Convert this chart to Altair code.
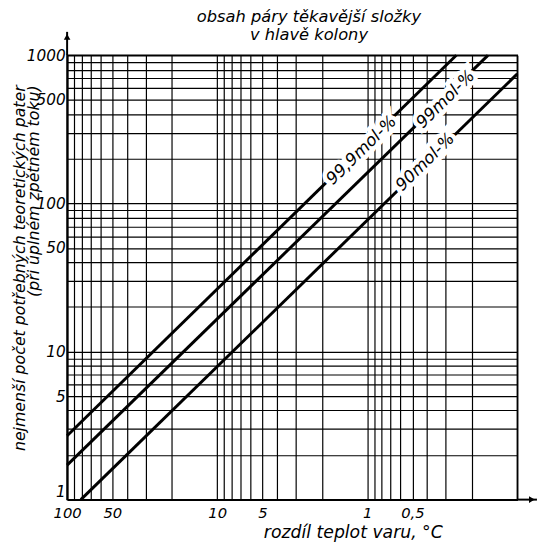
import altair as alt
import pandas as pd

# --- data ---
series = ["99,9 mol-%", "99 mol-%", "90 mol-%"]
dT_start = [100, 100, 81]
N_start = [2.7, 1.71, 1.0]
dT_end = [0.255, 0.157, 0.1]
N_end = [1000, 1000, 750]

label_text = ["99,9mol-%", "99mol-%", "90mol-%"]
label_dT = [1.09, 0.30, 0.41]
label_N = [228, 503, 190]

x_grid = sorted(set([round(d * 10 ** k, 6) for k in (-1, 0, 1) for d in range(1, 10)] + [100]))
y_grid = sorted(set([round(d * 10 ** k, 6) for k in (0, 1, 2) for d in range(1, 10)] + [1000]))
x_labels = [100, 50, 10, 5, 1, 0.5]
y_labels = [1, 5, 10, 50, 100, 500, 1000]

# axis arrows (extensions beyond the plot frame)
arrow_dT = [100, 0.1]
arrow_dT2 = [100, 0.074]
arrow_N = [1000, 1]
arrow_N2 = [1440, 1]

FONT = "DejaVu Sans"

lines_df = pd.DataFrame({
    "series": [s for s in series for _ in range(2)],
    "dT": [v for pair in zip(dT_start, dT_end) for v in pair],
    "N": [v for pair in zip(N_start, N_end) for v in pair],
})
labels_df = pd.DataFrame({"text": label_text, "dT": label_dT, "N": label_N})
arrows_df = pd.DataFrame({"dT": arrow_dT, "dT2": arrow_dT2, "N": arrow_N, "N2": arrow_N2})
head_up_df = pd.DataFrame({"dT": [100], "N": [1330]})
head_right_df = pd.DataFrame({"dT": [0.08], "N": [1]})


def cond(vals):
    return " || ".join(f"abs(datum.value - {v}) < 1e-9" for v in vals)


X = alt.X(
    "dT:Q",
    scale=alt.Scale(type="log", domain=[0.1, 100], reverse=True, nice=False),
    axis=alt.Axis(
        values=x_grid,
        labelExpr=f"({cond(x_labels)}) ? replace(format(datum.value, '~g'), '.', ',') : ''",
        grid=True, gridColor="black", gridWidth=1.2, gridOpacity=1,
        ticks=False, domain=True, domainColor="black", domainWidth=2,
        labelFont=FONT, labelFontStyle="italic", labelFontSize=15, labelColor="black",
        labelPadding=6, labelOverlap=False, labelFlush=False,
        title="rozdíl teplot varu, °C", titleFont=FONT, titleFontStyle="italic",
        titleFontWeight="normal", titleFontSize=17.5, titleColor="black",
        titleX=290, titleY=33, titleAlign="center", titleBaseline="middle",
    ),
)
Y = alt.Y(
    "N:Q",
    scale=alt.Scale(type="log", domain=[1, 1000], nice=False),
    axis=alt.Axis(
        values=y_grid,
        labelExpr=f"({cond(y_labels)}) ? format(datum.value, '~g') : ''",
        labelBaseline={"condition": {"test": "datum.value == 1", "value": "bottom"}, "value": "middle"},
        grid=True, gridColor="black", gridWidth=1.2, gridOpacity=1,
        ticks=False, domain=True, domainColor="black", domainWidth=2,
        labelFont=FONT, labelFontStyle="italic", labelFontSize=15.5, labelColor="black",
        labelPadding=2, labelOverlap=False, labelFlush=False,
        title=["nejmenší počet potřebných teoretických pater", "(při úplném zpětném toku)"],
        titleFont=FONT, titleFontStyle="italic", titleFontWeight="normal",
        titleFontSize=16, titleColor="black", titleLineHeight=14,
        titleAngle=270, titleAlign="right", titleBaseline="top",
        titleX=-56, titleY=30,
    ),
)

lines = alt.Chart(lines_df).mark_line(color="black", strokeWidth=3, strokeCap="butt").encode(
    x=X, y=Y, detail="series:N"
)
halo = alt.Chart(labels_df).mark_text(
    font=FONT, fontStyle="italic", fontSize=17, angle=315.5,
    stroke="white", strokeWidth=9, fill="white", align="center", baseline="middle",
).encode(x=X, y=Y, text="text:N")
text = alt.Chart(labels_df).mark_text(
    font=FONT, fontStyle="italic", fontSize=17, angle=315.5,
    color="black", align="center", baseline="middle",
).encode(x=X, y=Y, text="text:N")
arrows = alt.Chart(arrows_df).mark_rule(color="black", strokeWidth=2).encode(
    x=X, x2="dT2:Q", y=Y, y2="N2:Q"
)
head_up = alt.Chart(head_up_df).mark_point(
    shape="triangle-up", filled=True, color="black", size=45, opacity=1
).encode(x=X, y=Y)
head_right = alt.Chart(head_right_df).mark_point(
    shape="triangle-right", filled=True, color="black", size=45, opacity=1
).encode(x=X, y=Y)

chart = alt.layer(lines, halo, text, arrows, head_up, head_right).properties(
    width=457,
    height=451,
    autosize=alt.AutoSizeParams(type="none"),
    padding={"left": 60, "top": 44, "right": 22, "bottom": 40},
    background="white",
    title=alt.TitleParams(
        text=["obsah páry těkavější složky", "v hlavě kolony"],
        anchor="middle", frame="group", dx=17, dy=23, offset=10,
        font=FONT, fontStyle="italic", fontWeight="normal", fontSize=16.5,
        lineHeight=19, color="black",
    ),
).configure_view(stroke="black", strokeWidth=1.5)

chart.save("out.html", embed_options={"renderer": "svg", "actions": False})
